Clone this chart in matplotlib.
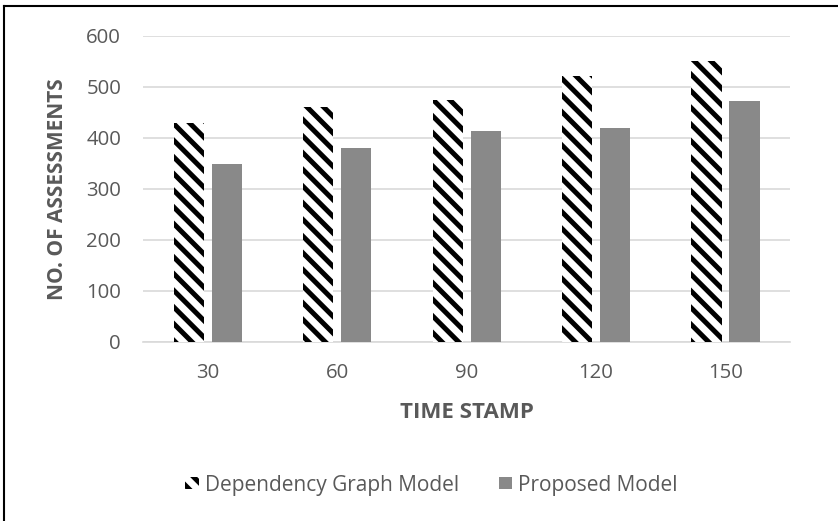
import numpy as np
import matplotlib
matplotlib.use("Agg")
import matplotlib.pyplot as plt
from matplotlib.lines import Line2D

plt.rcParams["font.family"] = ["Open Sans", "DejaVu Sans"]
plt.rcParams["hatch.linewidth"] = 3.6

# assessments per time stamp
time_stamps = ["30", "60", "90", "120", "150"]
dependency_graph = [430, 460, 475, 522, 550]
proposed = [348, 380, 413, 420, 472]

TXT = "#595959"
GRID = "#d9d9d9"

fig = plt.figure(figsize=(8.38, 5.21), dpi=100)
ax = fig.add_axes([0.171, 0.3436, 0.772, 0.5874])

x = np.arange(len(time_stamps))
w = 0.233
off = 0.147
ax.bar(x - off, dependency_graph, w, color="white", edgecolor="black", linewidth=0,
       hatch="\\\\", label="Dependency Graph Model", zorder=3)
ax.bar(x + off, proposed, w, color="#898989", edgecolor="none",
       label="Proposed Model", zorder=3)

ax.set_xlim(-0.5, len(time_stamps) - 0.5)
ax.set_ylim(0, 600)
ax.set_yticks(range(0, 601, 100))
ax.set_xticks(x)
ax.set_xticklabels(time_stamps)
ax.yaxis.grid(True, color=GRID, lw=1.2, zorder=0)
for s in ["top", "right", "left"]:
    ax.spines[s].set_visible(False)
ax.spines["bottom"].set_color(GRID)
ax.spines["bottom"].set_linewidth(1.2)
ax.tick_params(length=0, labelsize=14.7, colors=TXT)
ax.tick_params(axis="y", pad=16)
ax.tick_params(axis="x", pad=15)

ax.set_xlabel("TIME STAMP", fontsize=16, fontweight="bold", color=TXT, labelpad=14)
ax.set_ylabel("NO. OF ASSESSMENTS", fontsize=15, fontweight="bold", color=TXT, labelpad=13)

leg = fig.legend(loc="center", bbox_to_anchor=(0.515, 0.069), ncol=2, frameon=False,
                 fontsize=15, handlelength=0.65, handleheight=0.55, columnspacing=1.9,
                 handletextpad=0.3)
for t in leg.get_texts():
    t.set_color(TXT)

# frame lines on the left and top of the figure
fig.add_artist(Line2D([0.0045, 0.0045], [0, 0.989], color="black", lw=1.5, transform=fig.transFigure))
fig.add_artist(Line2D([0.0045, 1.0], [0.989, 0.989], color="black", lw=1.5, transform=fig.transFigure))

fig.savefig("out.png", dpi=100)
